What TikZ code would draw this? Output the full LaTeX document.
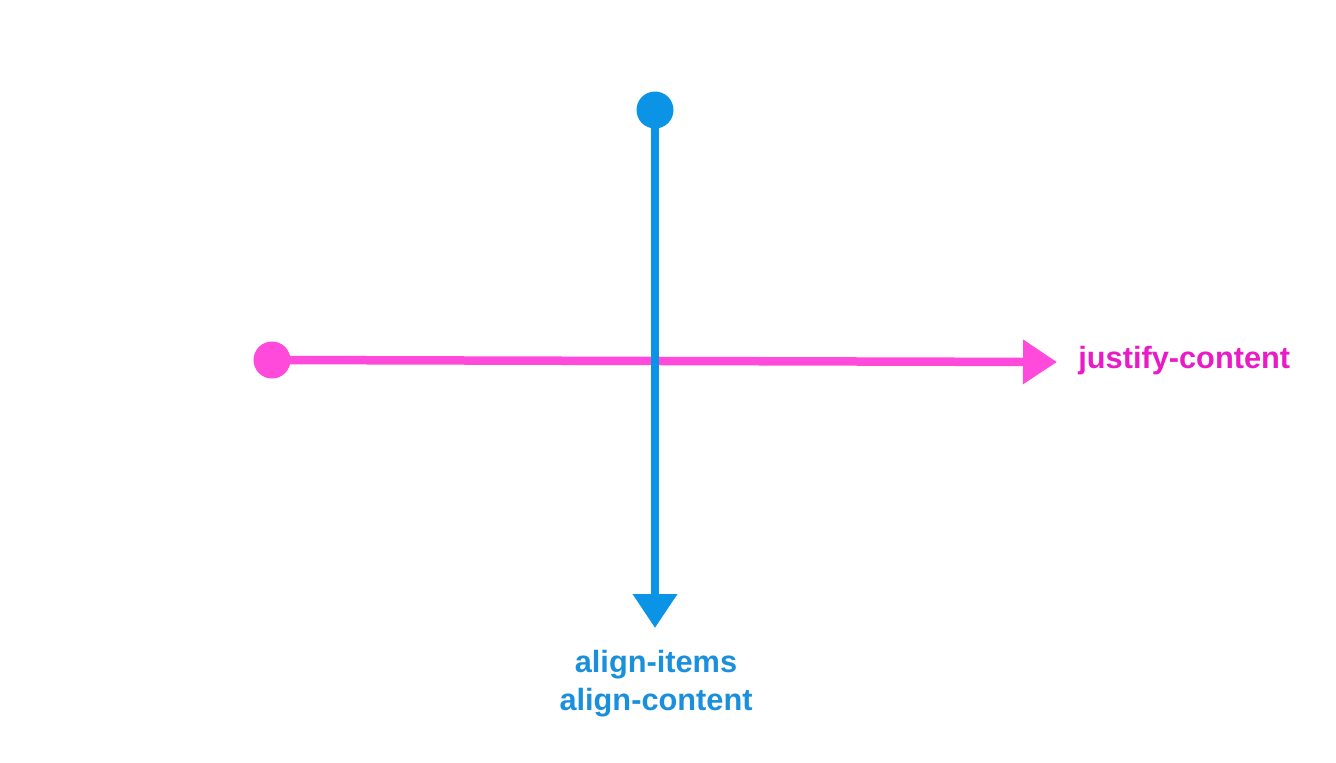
\documentclass[tikz,border=0pt]{standalone}
\usepackage{fontspec}
\setmainfont{Liberation Sans}
\usetikzlibrary{arrows.meta}
\definecolor{flexpink}{HTML}{FF4ADB}
\definecolor{flexpinktext}{HTML}{E81BC6}
\definecolor{flexblue}{HTML}{0B93E6}
\definecolor{flexbluetext}{HTML}{1A90DC}

\begin{document}
\begin{tikzpicture}[
x=0.02cm,y=-0.02cm,
dot/.style={circle,inner sep=0pt,minimum size=0.74cm},
axis/.style={-{Triangle[length=0.68cm,width=0.85cm]},line width=0.17cm,line cap=round},
axislabel/.style={font=\bfseries\fontsize{17.5}{21.6}\selectfont,inner sep=0pt,align=center} ]

\useasboundingbox (0,0) rectangle (1336,762);

\node[dot,fill=flexpink](jstart) at (272,360) {};
\coordinate (jend) at (1057,362);

\node[dot,fill=flexblue](astart) at (655,110) {};
\coordinate (aend) at (655,628);

\draw[axis,flexpink] (jstart.center) -- (jend);

\draw[axis,flexblue] (astart.center) -- (aend);

\node[axislabel,text=flexpinktext,anchor=west](jlabel) at (1078,361) {justify-content};

\node[axislabel,text=flexbluetext,anchor=north](alabel) at (656,650) {align-items\\align-content};
\end{tikzpicture}
\end{document}
